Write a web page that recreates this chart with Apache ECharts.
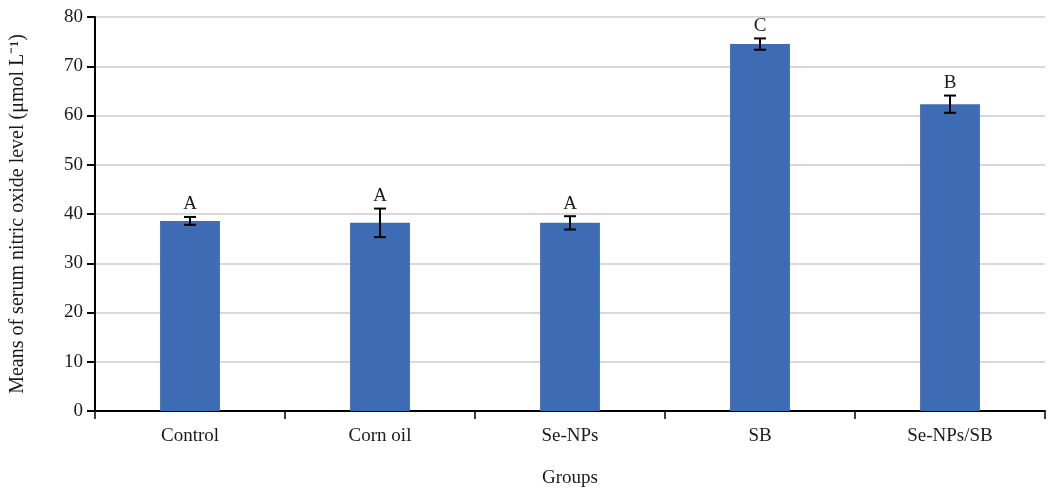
<!DOCTYPE html>
<html><head><meta charset="utf-8">
<script src="https://cdn.jsdelivr.net/npm/echarts@6/dist/echarts.min.js"></script>
<style>html,body{margin:0;padding:0;background:#fff}#c{width:1053px;height:493px}</style>
</head><body><div id="c"></div>
<script>
const categories = ['Control', 'Corn oil', 'Se-NPs', 'SB', 'Se-NPs/SB'];
const means = [38.6, 38.2, 38.2, 74.5, 62.3];
const errors = [0.8, 2.9, 1.35, 1.15, 1.75];
const letters = ['A', 'A', 'A', 'C', 'B'];
const yTicks = [0, 10, 20, 30, 40, 50, 60, 70, 80];

const font = '"Liberation Serif", "Times New Roman", serif';
const chart = echarts.init(document.getElementById('c'));
chart.setOption({
  animation: false,
  grid: { left: 94, right: 8, top: 17, bottom: 82 },
  xAxis: {
    type: 'category', data: categories,
    name: 'Groups', nameLocation: 'middle', nameGap: 58,
    nameTextStyle: { fontFamily: font, fontSize: 19, color: '#1a1a1a' },
    axisLine: { lineStyle: { color: '#000', width: 2 } },
    axisTick: { show: true, length: 8, lineStyle: { color: '#000', width: 1.5 } },
    axisLabel: { fontFamily: font, fontSize: 19, color: '#1a1a1a', margin: 16 }
  },
  yAxis: {
    type: 'value', min: yTicks[0], max: yTicks[yTicks.length - 1], interval: 10,
    name: 'Means of serum nitric oxide level (\u03bcmol L\u207b\u00b9)',
    nameLocation: 'middle', nameGap: 67, nameRotate: 90,
    nameTextStyle: { fontFamily: font, fontSize: 20, color: '#1a1a1a' },
    axisLine: { show: true, lineStyle: { color: '#000', width: 2 } },
    axisTick: { show: true, length: 8, lineStyle: { color: '#000', width: 2 } },
    axisLabel: { fontFamily: font, fontSize: 19, color: '#1a1a1a', margin: 12 },
    splitLine: { lineStyle: { color: '#d9d9d9', width: 2 } }
  },
  series: [
    {
      type: 'bar', data: means, barWidth: '31.5%',
      itemStyle: { color: '#3d6bb4' }
    },
    {
      type: 'custom',
      data: means.map((m, i) => [i, m, errors[i], letters[i]]),
      renderItem: function (params, api) {
        const i = api.value(0), m = api.value(1), e = api.value(2);
        const top = api.coord([i, m + e]);
        const bot = api.coord([i, m - e]);
        const hw = 6;
        const st = { stroke: '#000', lineWidth: 2 };
        return {
          type: 'group',
          children: [
            { type: 'line', shape: { x1: top[0], y1: top[1], x2: bot[0], y2: bot[1] }, style: st },
            { type: 'line', shape: { x1: top[0] - hw, y1: top[1], x2: top[0] + hw, y2: top[1] }, style: st },
            { type: 'line', shape: { x1: bot[0] - hw, y1: bot[1], x2: bot[0] + hw, y2: bot[1] }, style: st },
            { type: 'text', style: { x: top[0], y: top[1] - 3, text: letters[params.dataIndex], textAlign: 'center', textVerticalAlign: 'bottom', fontFamily: font, fontSize: 19, fill: '#1a1a1a' } }
          ]
        };
      },
      z: 10
    }
  ]
});
</script></body></html>
